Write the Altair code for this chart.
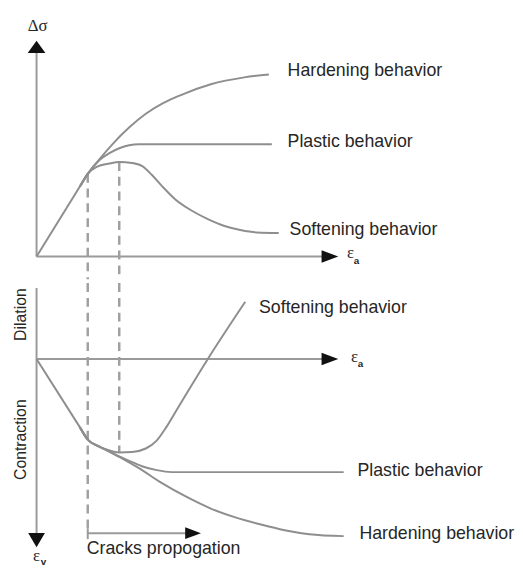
import altair as alt
import pandas as pd

# ---------------- data (arbitrary strain / stress units) ----------------
# shared elastic (linear) part, from origin to the crack-onset knee
knee_x = 5.2
knee_top_y = 8.4
knee_bot_y = -8.2
peak_x = 8.4

# Top panel: deviatoric stress Δσ versus axial strain ε_a
top_hard_x = [4.4, 5.2, 6.4, 7.7, 9.4, 11.1, 12.9, 14.4, 17.7, 21.1, 23.6]
top_hard_y = [7.1, 8.4, 9.9, 11.4, 13.1, 14.5, 15.6, 16.3, 17.5, 18.2, 18.5]
top_plas_x = [4.4, 5.2, 6.4, 7.4, 8.4, 9.4, 10.4, 23.9]
top_plas_y = [7.1, 8.4, 9.8, 10.5, 11.0, 11.3, 11.4, 11.4]
top_soft_x = [4.4, 5.2, 6.1, 7.4, 8.4, 9.7, 10.7, 11.7, 12.7, 14.1, 15.7, 17.4, 19.1, 20.7, 22.4, 24.6]
top_soft_y = [7.1, 8.4, 9.1, 9.45, 9.6, 9.5, 9.2, 8.3, 7.2, 5.8, 4.7, 3.8, 3.1, 2.7, 2.45, 2.4]

# Bottom panel: volumetric strain ε_v versus axial strain ε_a
bot_soft_x = [4.4, 5.2, 7.1, 8.4, 9.7, 11.1, 12.2, 13.2, 14.4, 17.4, 21.2]
bot_soft_y = [-6.94, -8.2, -9.2, -9.5, -9.45, -9.1, -8.3, -6.9, -4.9, 0.0, 5.8]
bot_plas_x = [4.4, 5.2, 6.4, 7.4, 8.4, 9.4, 10.7, 12.2, 13.7, 31.2]
bot_plas_y = [-6.94, -8.2, -8.9, -9.4, -9.9, -10.35, -10.9, -11.3, -11.5, -11.5]
bot_hard_x = [4.4, 5.2, 6.4, 8.4, 10.4, 12.7, 15.2, 17.7, 20.2, 22.7, 25.2, 27.7, 31.2]
bot_hard_y = [-6.94, -8.2, -8.9, -9.95, -11.1, -12.6, -14.0, -15.2, -16.1, -16.8, -17.4, -17.8, -18.0]

curve_names = ["Hardening behavior", "Plastic behavior", "Softening behavior"]

# ---------------- tables ----------------
def curves(series):
    rows = []
    for name, xs, ys in series:
        for i, (a, b) in enumerate(zip(xs, ys)):
            rows.append({"curve": name, "i": i, "x": a, "y": b})
    return pd.DataFrame(rows)

top_curves = curves([
    ("elastic", [0, knee_x], [0, knee_top_y]),
    (curve_names[0], top_hard_x, top_hard_y),
    (curve_names[1], top_plas_x, top_plas_y),
    (curve_names[2], top_soft_x, top_soft_y),
])
bot_curves = curves([
    ("elastic", [0, knee_x], [0, knee_bot_y]),
    (curve_names[0], bot_hard_x, bot_hard_y),
    (curve_names[1], bot_plas_x, bot_plas_y),
    (curve_names[2], bot_soft_x, bot_soft_y),
])

top_axes = pd.DataFrame({"x": [0, 0], "x2": [0, 29.0], "y": [0, 0], "y2": [20.7, 0]})
bot_axes = pd.DataFrame({"x": [0, 0, knee_x, knee_x], "x2": [0, 29.0, 15.4, knee_x],
                         "y": [7.2, 0, -17.7, -17.2], "y2": [-17.8, 0, -17.7, -18.3]})

top_dash = pd.DataFrame({"x": [knee_x, peak_x], "y": [knee_top_y, 9.6], "y2": [-2.3, -2.3]})
bot_dash = pd.DataFrame({"x": [knee_x, peak_x], "y": [7.7, 7.7], "y2": [-17.3, -9.5]})

UP = "M0,-0.7L1,0.7L-1,0.7Z"
RIGHT = "M1,0L-1,-0.75L-1,0.75Z"
DOWN = "M0,0.85L1,-0.85L-1,-0.85Z"
top_arrows = pd.DataFrame({"x": [0, 29.8], "y": [21.3, 0], "shape": [UP, RIGHT], "size": [324, 289]})
bot_arrows = pd.DataFrame({"x": [29.8, 0, 15.9], "y": [0, -18.4, -17.7],
                           "shape": [RIGHT, DOWN, RIGHT], "size": [289, 289, 256]})

top_labels = pd.DataFrame({"text": curve_names, "x": [25.5, 25.5, 25.7], "y": [18.8, 11.6, 2.7]})
bot_labels = pd.DataFrame({"text": [curve_names[2], curve_names[1], curve_names[0], "Cracks propogation"],
                           "x": [22.6, 32.6, 32.8, 5.1], "y": [5.2, -11.4, -17.8, -19.3]})
bot_vlabels = pd.DataFrame({"text": ["Dilation", "Contraction"], "x": [-1.6, -1.6], "y": [4.5, -8.2]})

top_sym = pd.DataFrame({"text": ["Δσ", "ε"], "x": [0.1, 31.9], "y": [23.4, 0.3]})
top_sub = pd.DataFrame({"text": ["a"], "x": [32.5], "y": [-0.5]})
bot_sym = pd.DataFrame({"text": ["ε", "ε"], "x": [32.3, 0.0], "y": [0.15, -20.0]})
bot_sub = pd.DataFrame({"text": ["a", "v"], "x": [32.9, 0.7], "y": [-0.5, -20.6]})

# ---------------- chart ----------------
XS = alt.Scale(domain=[-2.8, 47.9], nice=False, zero=False)
LINE = "#8e8e8e"
TEXT = "#262626"


def panel(yscale, h, cdf, adf, ddf, rdf, ldf, sdf, subdf, vdf=None):
    X = alt.X("x:Q", scale=XS, axis=None)
    Y = alt.Y("y:Q", scale=yscale, axis=None)
    layers = [
        alt.Chart(adf).mark_rule(color="#9a9a9a", strokeWidth=2).encode(
            x=X, y=Y, x2="x2:Q", y2="y2:Q"),
        alt.Chart(ddf).mark_rule(color="#a0a0a0", strokeWidth=2.5, strokeDash=[9, 6]).encode(
            x=X, y=Y, y2="y2:Q"),
        alt.Chart(cdf).mark_line(color=LINE, strokeWidth=2, interpolate="monotone").encode(
            x=X, y=Y, detail="curve:N", order="i:Q"),
        alt.Chart(rdf).mark_point(filled=True, color="#111111", opacity=1, strokeWidth=0).encode(
            x=X, y=Y, shape=alt.Shape("shape:N", scale=None), size=alt.Size("size:Q", scale=None)),
        alt.Chart(ldf).mark_text(align="left", baseline="middle", font="Liberation Sans",
                                 fontSize=18, color=TEXT).encode(x=X, y=Y, text="text:N"),
        alt.Chart(sdf).mark_text(align="center", baseline="middle", font="Liberation Serif",
                                 fontSize=17, color=TEXT).encode(x=X, y=Y, text="text:N"),
        alt.Chart(subdf).mark_text(align="center", baseline="middle", font="Liberation Sans",
                                   fontSize=10, fontWeight="bold", color=TEXT).encode(x=X, y=Y, text="text:N"),
    ]
    if vdf is not None:
        layers.append(
            alt.Chart(vdf).mark_text(align="center", baseline="middle", font="Liberation Sans",
                                     fontSize=16, angle=270, color=TEXT).encode(x=X, y=Y, text="text:N"))
    return alt.layer(*layers).properties(width=507, height=h)


YT = alt.Scale(domain=[-2.3, 24.7], nice=False, zero=False)
YB = alt.Scale(domain=[-20.6, 7.7], nice=False, zero=False)

top = panel(YT, 270, top_curves, top_axes, top_dash, top_arrows, top_labels, top_sym, top_sub)
bottom = panel(YB, 283, bot_curves, bot_axes, bot_dash, bot_arrows, bot_labels, bot_sym, bot_sub, bot_vlabels)

chart = alt.vconcat(top, bottom, spacing=0).resolve_scale(y="independent").properties(
    padding=0, background="white"
).configure_view(stroke="transparent")

chart.save("out.html", embed_options={"renderer": "svg", "actions": False})
